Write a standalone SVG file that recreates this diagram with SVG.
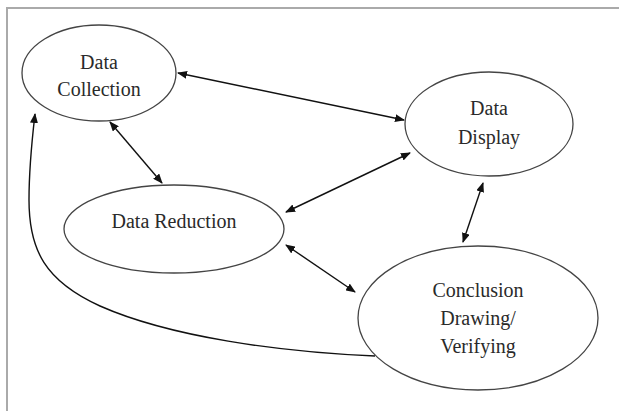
<svg xmlns="http://www.w3.org/2000/svg" width="619" height="411" viewBox="0 0 619 411">
<style>
.node ellipse{fill:#fff;stroke:#444;stroke-width:1.3}
.node text{font-family:"Liberation Serif","DejaVu Serif",serif;font-size:20px;fill:#2a2a2a;text-anchor:middle}
.conn{fill:none;stroke:#111;stroke-width:1.4}
.frame{fill:none;stroke:#aaa;stroke-width:2}
</style>
<defs>
<marker id="ah" markerWidth="10" markerHeight="8" refX="9" refY="4" orient="auto-start-reverse" markerUnits="userSpaceOnUse">
<path d="M0,0 L10,4 L0,8 Z" fill="#111"/>
</marker>
</defs>
<rect width="619" height="411" fill="#fff"/>
<path class="frame" d="M7,411 V8 H619"/>
<g id="n-collection" class="node">
<ellipse cx="99" cy="73" rx="77" ry="48"/>
<text x="99" y="69" font-family="Liberation Serif, serif">Data</text>
<text x="99" y="96" font-family="Liberation Serif, serif">Collection</text>
</g>
<g id="n-display" class="node">
<ellipse cx="489" cy="124" rx="84" ry="52"/>
<text x="489" y="115" font-family="Liberation Serif, serif">Data</text>
<text x="489" y="144" font-family="Liberation Serif, serif">Display</text>
</g>
<g id="n-reduction" class="node">
<ellipse cx="174" cy="229" rx="110" ry="44"/>
<text x="174" y="228" font-family="Liberation Serif, serif">Data Reduction</text>
</g>
<g id="n-conclusion" class="node">
<ellipse cx="478" cy="318" rx="120" ry="72"/>
<text x="478" y="297" font-family="Liberation Serif, serif">Conclusion</text>
<text x="478" y="325" font-family="Liberation Serif, serif">Drawing/</text>
<text x="478" y="353" font-family="Liberation Serif, serif">Verifying</text>
</g>
<g id="connectors">
<path class="conn" d="M178,73 L404,120" marker-start="url(#ah)" marker-end="url(#ah)"/>
<path class="conn" d="M410,153 L286,212" marker-start="url(#ah)" marker-end="url(#ah)"/>
<path class="conn" d="M110,122 L162,183" marker-start="url(#ah)" marker-end="url(#ah)"/>
<path class="conn" d="M483,183 L463,242" marker-start="url(#ah)" marker-end="url(#ah)"/>
<path class="conn" d="M286,245 L355,292" marker-start="url(#ah)" marker-end="url(#ah)"/>
<path class="conn" d="M375,356 C280,352 170,337 100,306 C45,281 29,250 29,200 C29,165 32,140 35,114" marker-end="url(#ah)"/>
</g>
</svg>
